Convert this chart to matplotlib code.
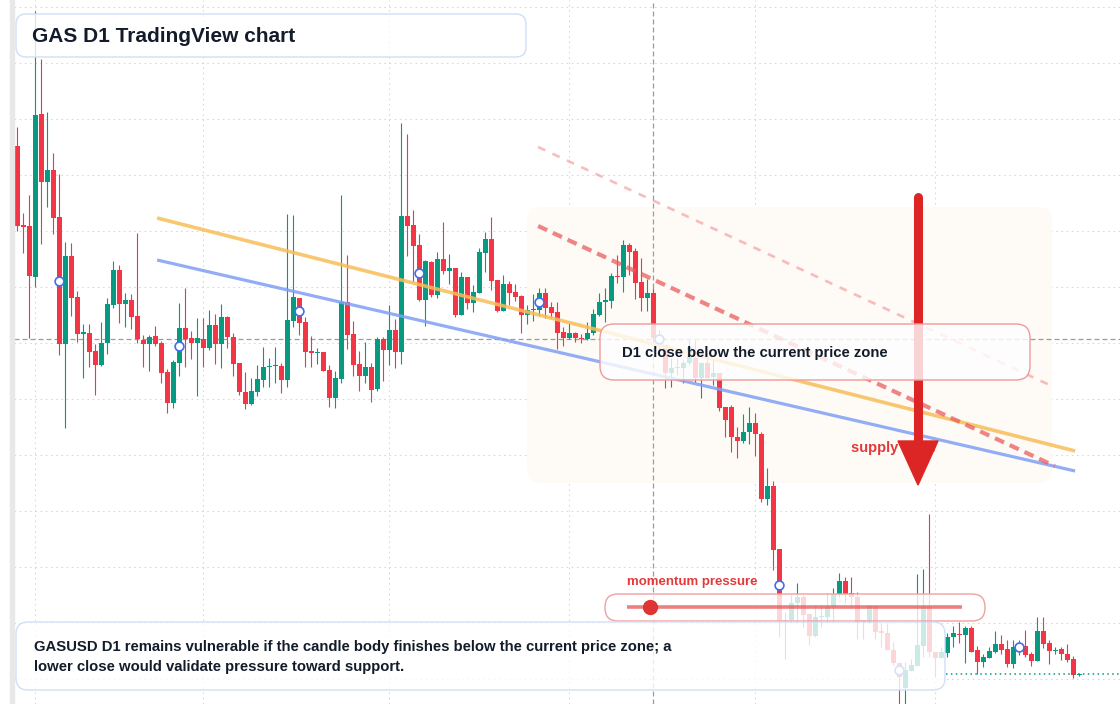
import matplotlib
matplotlib.use("Agg")
import matplotlib.pyplot as plt
from matplotlib.patches import FancyBboxPatch, Polygon, Rectangle
from matplotlib.transforms import IdentityTransform

W, H = 1120, 704

# daily candles, price in ticks (axis is unlabeled)
opens = [554, 475, 474, 423, 586, 518, 530, 483, 356, 444, 403, 366, 367, 349, 335, 357, 395, 430, 396, 400,
         384, 360, 356, 364, 357, 328, 297, 337, 372, 362, 357, 361, 352, 375, 356, 383, 363, 337, 308, 296,
         308, 320, 333, 334, 334, 320, 379, 402, 378, 349, 347, 348, 330, 302, 321, 398, 366, 336, 324, 333,
         311, 361, 350, 370, 348, 484, 475, 455, 400, 438, 405, 441, 429, 432, 385, 423, 397, 407, 447, 461,
         420, 389, 416, 408, 404, 385, 390, 390, 407, 393, 388, 368, 362, 367, 362, 361, 367, 385, 398, 399,
         424, 423, 455, 449, 418, 402, 407, 363, 355, 327, 333, 332, 337, 342, 322, 337, 323, 327, 293, 293,
         263, 259, 268, 277, 266, 201, 214, 151, 79, 80, 97, 103, 86, 64, 83, 83, 93, 106, 119, 107,
         103, 80, 78, 94, 69, 67, 50, 37, 12, 29, 34, 54, 93, 48, 42, 47, 63, 66, 65, 72,
         50, 38, 42, 48, 56, 51, 36, 53, 54, 46, 39, 69, 57, 49, 51, 46, 41, 25]
highs = [573, 487, 505, 689, 641, 588, 547, 526, 458, 457, 409, 376, 376, 356, 378, 402, 439, 435, 407, 406,
         467, 365, 365, 374, 359, 331, 340, 397, 412, 369, 382, 382, 390, 386, 396, 384, 367, 337, 328, 322,
         335, 353, 342, 353, 337, 486, 485, 402, 383, 364, 352, 348, 335, 329, 505, 445, 379, 349, 358, 337,
         363, 363, 395, 381, 577, 566, 490, 466, 440, 439, 448, 478, 446, 432, 428, 423, 415, 452, 468, 483,
         420, 425, 419, 416, 405, 395, 406, 412, 412, 398, 398, 373, 377, 368, 366, 378, 391, 407, 412, 427,
         445, 460, 457, 452, 442, 421, 412, 370, 355, 342, 342, 340, 360, 360, 338, 347, 340, 327, 293, 295,
         273, 286, 293, 287, 268, 232, 219, 151, 88, 105, 117, 105, 86, 95, 95, 107, 112, 127, 123, 123,
         108, 80, 95, 94, 77, 77, 58, 37, 38, 41, 126, 131, 186, 48, 53, 67, 74, 78, 74, 74,
         54, 46, 53, 69, 65, 60, 60, 60, 70, 48, 83, 83, 60, 53, 53, 56, 44, 27]
lows = [469, 447, 362, 413, 456, 493, 466, 345, 272, 384, 358, 322, 333, 305, 334, 346, 392, 377, 373, 371,
        357, 333, 329, 354, 317, 287, 292, 324, 333, 341, 304, 333, 350, 336, 332, 352, 324, 305, 291, 295,
        304, 313, 313, 317, 307, 313, 373, 365, 333, 333, 336, 329, 293, 292, 317, 351, 324, 309, 317, 298,
        309, 319, 335, 332, 336, 444, 418, 399, 374, 403, 402, 426, 416, 383, 385, 391, 388, 407, 428, 410,
        388, 389, 395, 399, 367, 376, 379, 384, 382, 382, 351, 354, 361, 358, 357, 360, 365, 384, 378, 392,
        417, 408, 425, 401, 389, 389, 358, 350, 312, 313, 325, 317, 335, 318, 302, 322, 315, 289, 263, 248,
        242, 257, 256, 244, 198, 195, 130, 63, 41, 78, 78, 73, 55, 63, 73, 78, 78, 103, 97, 92,
        61, 61, 77, 61, 53, 50, 35, -10, -15, 29, 34, 43, 43, 23, 42, 43, 53, 57, 37, 48,
        26, 33, 42, 47, 46, 33, 32, 45, 43, 34, 39, 52, 36, 46, 40, 38, 22, 24]
closes = [474, 473, 424, 585, 518, 530, 482, 356, 444, 402, 366, 368, 348, 335, 357, 396, 430, 396, 400, 383,
          361, 356, 363, 356, 327, 297, 338, 372, 361, 357, 362, 352, 375, 356, 383, 363, 336, 308, 296, 309,
          321, 333, 334, 335, 320, 380, 403, 377, 348, 347, 348, 329, 302, 322, 398, 365, 335, 324, 333, 310,
          361, 350, 370, 348, 484, 474, 454, 400, 439, 405, 441, 429, 432, 385, 423, 397, 408, 448, 461, 419,
          389, 416, 407, 403, 385, 390, 391, 407, 392, 387, 367, 362, 367, 362, 361, 367, 386, 398, 400, 424,
          423, 455, 448, 417, 402, 407, 362, 359, 327, 332, 332, 337, 353, 322, 337, 322, 327, 292, 280, 263,
          259, 268, 277, 266, 201, 214, 150, 79, 80, 97, 103, 85, 64, 83, 84, 93, 106, 119, 106, 103,
          78, 78, 94, 68, 67, 50, 37, 23, 30, 35, 55, 93, 48, 42, 48, 63, 67, 65, 72, 48,
          38, 43, 49, 56, 50, 36, 53, 54, 45, 39, 69, 56, 49, 50, 46, 40, 25, 26]

month_starts = [3, 31, 62, 92, 123, 153]
cursor_bar = 106
cursor_price = 361
marker_bars = list(range(7, len(closes), 20))

# trend lines: (bar, price) anchors
orange_trend = [(23.3, 482), (176.3, 249)]
blue_trend = [(23.3, 440), (176.3, 229)]
supply_upper = [(86.8, 553), (172.4, 314)]
supply_lower = [(86.8, 474), (172.9, 234)]

GREEN, RED = "#089981", "#f23645"

plt.rcParams['font.family'] = ['Liberation Sans', 'DejaVu Sans']

fig = plt.figure(figsize=(W / 100, H / 100), dpi=100)
fig.patches.append(Rectangle((10 / W, 0), 4 / W, 1, transform=fig.transFigure,
                             color="#e8e8e8", zorder=0))
ax = fig.add_axes([14 / W, 0, 1 - 14 / W, 1])
ax.set_xlim((14 - 17.3) / 6, (W - 17.3) / 6)
ax.set_ylim(-4, 700)
for s in ax.spines.values():
    s.set_visible(False)
ax.set_xticks([])
ax.set_yticks([])

ident = IdentityTransform()


def rbox(x0, y0, x1, y1, r, fc, ec, lw, z):
    p = FancyBboxPatch((x0, H - y1), x1 - x0, y1 - y0,
                       boxstyle=f"round,pad=0,rounding_size={r}",
                       transform=ident, fc=fc, ec=ec, lw=lw, zorder=z, clip_on=False)
    ax.add_patch(p)


# grid
for k in range(13):
    ax.axhline(693.3 - 56 * k, color="#d3d7dc", lw=0.75, ls=(0, (1.5, 3.5)), zorder=0.5)
for m in month_starts:
    ax.axvline(m, color="#d3d7dc", lw=0.75, ls=(0, (1.5, 3.5)), zorder=0.5)

# supply zone shading
rbox(527, 207, 1052, 483, 14, "#fefaf6", "none", 0, 0.8)

# crosshair
ax.axhline(cursor_price, color="#9c9c9c", lw=0.9, ls=(0, (4, 2.4)), zorder=1.5)
ax.axvline(cursor_bar, color="#9c9c9c", lw=0.9, ls=(0, (4, 2.4)), zorder=1.5)

# candles
for i, (o, h, l, c) in enumerate(zip(opens, highs, lows, closes)):
    col = GREEN if c >= o else RED
    ax.vlines(i, l, h, color=col, lw=0.8, zorder=2)
    ax.bar(i, max(abs(c - o), 1.5), bottom=min(o, c), width=0.78, color=col, lw=0, zorder=2.1)

# last price line
ax.hlines(closes[-1], (946 - 17.3) / 6, (W - 17.3) / 6, color=GREEN, lw=1.1,
          ls=(0, (1, 2.2)), zorder=2.2)

# trend lines
ax.plot(*zip(*orange_trend), color="#f7bd57", lw=2.6, alpha=0.85, solid_capstyle="butt", zorder=3)
ax.plot(*zip(*blue_trend), color="#7f9ff5", lw=2.3, alpha=0.85, solid_capstyle="butt", zorder=3)
ax.plot(*zip(*supply_upper), color="#f08a8a", lw=1.9, alpha=0.55, ls=(0, (3, 3)), zorder=3)
ax.plot(*zip(*supply_lower), color="#e95d5d", lw=3.0, alpha=0.75, ls=(0, (2.4, 1.5)), zorder=3)

# markers at candle body midpoints
ax.scatter(marker_bars, [(opens[i] + closes[i]) / 2 for i in marker_bars], s=40,
           facecolor="white", edgecolor="#3f6fee", lw=1.2, zorder=3.5)

# supply zone label and arrow
ax.text(851, H - 448, "supply zone", transform=ident, color="#e23a3a", fontsize=10.5,
        fontweight="bold", va="center", ha="left", zorder=4)
ax.plot([918, 918], [H - 197, H - 445], transform=ident, color="#dc2626", lw=6.5,
        solid_capstyle="round", zorder=5)
ax.add_patch(Polygon([(898, H - 441), (938, H - 441), (918, H - 485)], closed=True,
                     transform=ident, color="#dc2626", zorder=5, clip_on=False))

# title box
rbox(16, 14, 526, 57, 10, (1, 1, 1, 0.8), "#cfdff7", 1.0, 6)
ax.text(32, H - 36, "GAS D1 TradingView chart", transform=ident, fontsize=15,
        fontweight="bold", color="#131c2b", va="center", zorder=7)

# D1 close box
rbox(600, 324, 1030, 380, 14, (1, 1, 1, 0.8), "#ee9a9a", 1.0, 6)
ax.text(622, H - 353, "D1 close below the current price zone", transform=ident, fontsize=10.75,
        fontweight="bold", color="#131c2b", va="center", zorder=7)

# momentum box
rbox(605, 594, 985, 621, 13, (1, 1, 1, 0.8), "#f0a0a0", 1.0, 6)
ax.text(627, H - 582, "momentum pressure", transform=ident, fontsize=9.5,
        fontweight="bold", color="#e23a3a", va="center", zorder=7)
ax.plot([627, 962], [H - 607, H - 607], transform=ident, color="#e35555", lw=2.6,
        alpha=0.75, solid_capstyle="butt", zorder=7)
ax.plot([650], [H - 607], transform=ident, marker="o", ms=10, color="#e03434", zorder=7.5)

# bottom note box
rbox(16, 622, 945, 690, 12, (1, 1, 1, 0.8), "#cfdff7", 1.0, 6)
ax.text(34, H - 647, "GASUSD D1 remains vulnerable if the candle body finishes below the current price zone; a",
        transform=ident, fontsize=10.75, fontweight="bold", color="#131c2b", va="center", zorder=7)
ax.text(34, H - 667, "lower close would validate pressure toward support.",
        transform=ident, fontsize=10.75, fontweight="bold", color="#131c2b", va="center", zorder=7)

fig.savefig("out.png", dpi=100)
